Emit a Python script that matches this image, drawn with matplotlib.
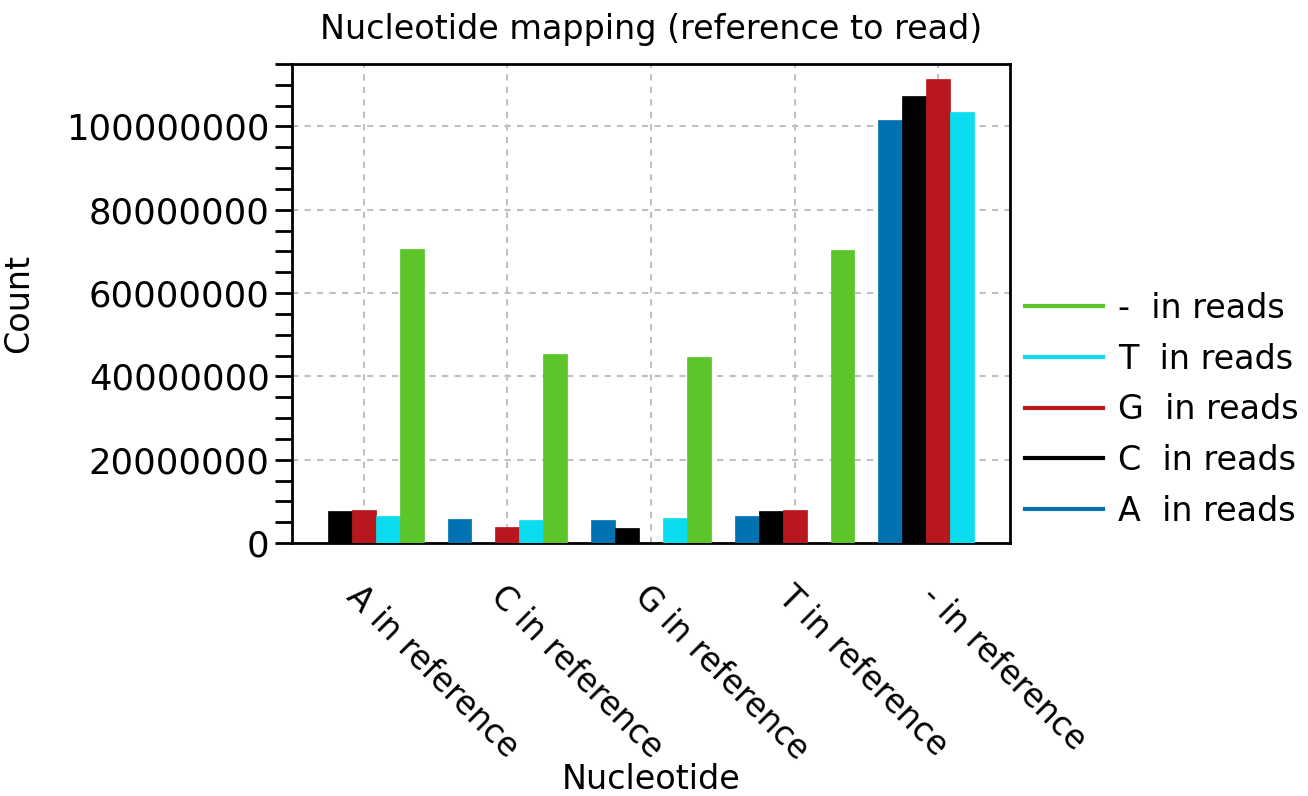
import numpy as np
import matplotlib.pyplot as plt
from matplotlib.lines import Line2D
from matplotlib.ticker import MultipleLocator

# donnees
references = ["A in reference", "C in reference", "G in reference", "T in reference", "- in reference"]
read_names = ["A", "C", "G", "T", "-"]
a_reads = [0, 5850000, 5450000, 6400000, 101500000]
c_reads = [7750000, 0, 3700000, 7600000, 107300000]
g_reads = [7900000, 3950000, 0, 7900000, 111300000]
t_reads = [6500000, 5600000, 6100000, 0, 103500000]
gap_reads = [70500000, 45500000, 44600000, 70300000, 0]
colours = ["#0072b2", "#000000", "#b8171d", "#0bdcef", "#5cc52a"]

series = [a_reads, c_reads, g_reads, t_reads, gap_reads]
x = np.arange(len(references))
w = 1 / 6

fig = plt.figure(figsize=(13.08, 7.96), dpi=100)
ax = fig.add_axes([0.2232, 0.3178, 0.549, 0.6018])
fs = 24

for i, vals in enumerate(series):
    ax.bar(x + (i - 2) * w, vals, width=w, color=colours[i], edgecolor=colours[i],
           linewidth=0.5, zorder=3)

ax.set_xlim(-0.5, 4.5)
ax.set_ylim(0, 115000000)
ax.yaxis.set_major_locator(MultipleLocator(20000000))
ax.yaxis.set_minor_locator(MultipleLocator(5000000))
ax.set_xticks(x)
ax.set_xticklabels(references, rotation=-45, ha="left", va="top",
                   rotation_mode="anchor", fontsize=23.5)
ax.tick_params(axis="x", length=0, pad=26)
ax.tick_params(axis="y", which="both", direction="out", length=12, width=2,
               labelsize=25.5, pad=4)
ax.ticklabel_format(axis="y", style="plain", useOffset=False)
for s in ax.spines.values():
    s.set_linewidth(2)
ax.grid(True, color="#c0c0c0", linestyle=(0, (3, 3)), linewidth=1.5, zorder=0)
ax.set_axisbelow(True)

ax.set_title("Nucleotide mapping (reference to read)", fontsize=fs, pad=18)
ax.set_xlabel("Nucleotide", fontsize=fs)
ax.xaxis.set_label_coords(0.5, -0.46)
ax.set_ylabel("Count", fontsize=fs)
ax.yaxis.set_label_coords(-0.358, 0.5)

handles = [Line2D([], [], color=colours[i], linewidth=3) for i in range(4, -1, -1)]
labels = [read_names[i] + "  in reads" for i in range(4, -1, -1)]
ax.legend(handles, labels, loc="center left", bbox_to_anchor=(1.0, 0.278),
          frameon=False, fontsize=fs, handlelength=2.34, handletextpad=0.45,
          labelspacing=0.53, borderaxespad=0.45, borderpad=0)

plt.savefig("out.png", dpi=100)
